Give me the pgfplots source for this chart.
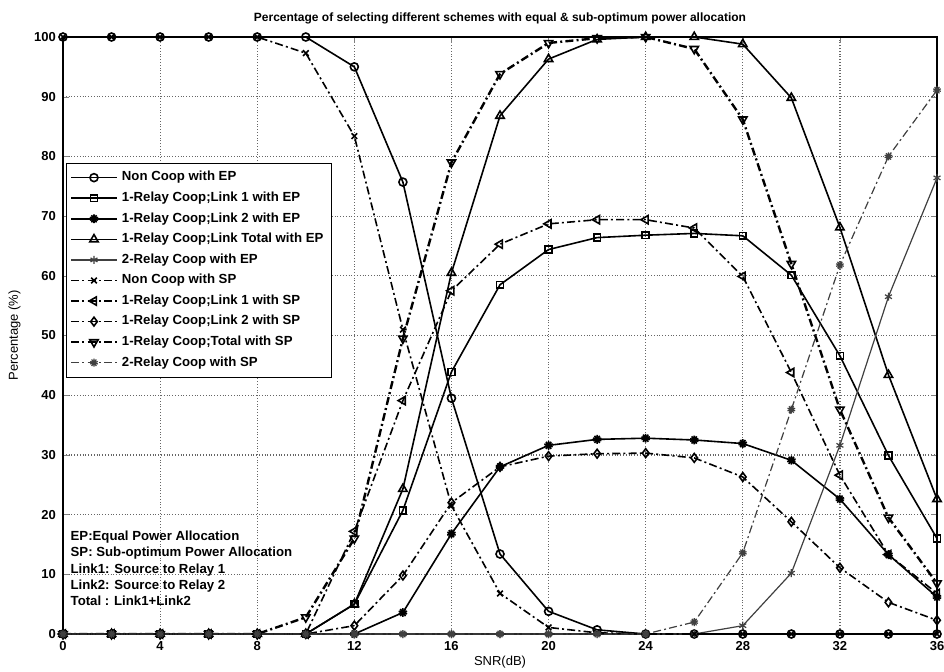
\documentclass[border=0pt]{standalone}
\usepackage{fontspec}
\setmainfont{Liberation Sans}
\usepackage{pgfplots}
\usepackage{pgfplotstable}
\pgfplotsset{compat=1.18}

% SNR, then one column per scheme
\pgfplotstableread{
snr  ncep  l1ep  l2ep  totep  r2ep  ncsp  l1sp  l2sp  totsp  r2sp
0    100   0     0     0      0     100   0     0     0      0
2    100   0     0     0      0     100   0     0     0      0
4    100   0     0     0      0     100   0     0     0      0
6    100   0     0     0      0     100   0     0     0      0
8    100   0     0     0      0     100   0     0     0      0
10   100   0     0     0      0     97.3  0     0     2.8    0
12   95    5     0     5      0     83.4  17.2  1.4   16     0
14   75.7  20.7  3.6   24.3   0     51    39.1  9.8   49.5   0
16   39.5  43.9  16.8  60.5   0     21.5  57.5  22    79     0
18   13.4  58.5  28    86.8   0     6.8   65.3  28    93.8   0
20   3.8   64.4  31.6  96.3   0     1.1   68.7  29.8  99     0
22   0.7   66.4  32.6  99.6   0     0.2   69.4  30.2  99.8   0
24   0     66.8  32.8  100    0     0     69.4  30.3  100    0
26   0     67.1  32.5  100    0     0     68    29.5  98     2
28   0     66.7  31.9  98.8   1.4   0     59.9  26.3  86.2   13.6
30   0     60.1  29.1  89.8   10.2  0     43.8  18.8  62     37.6
32   0     46.6  22.6  68.1   31.6  0     26.6  11.1  37.6   61.8
34   0     29.9  13.3  43.4   56.5  0     13.3  5.3   19.5   80
36   0     16    6.2   22.6   76.4  0     6.8   2.3   8.5    91.1
}\datatab

\tikzset{
  ep/.style={black, line width=0.8pt, solid},
  sp/.style={black, line width=0.8pt, dash pattern=on 4pt off 1.6pt on 1pt off 1.6pt},
}

\begin{document}
\begin{tikzpicture}
\begin{axis}[
  scale only axis,
  width=437pt, height=298.5pt,
  xmin=0, xmax=36, ymin=0, ymax=100,
  xtick={0,4,...,36}, ytick={0,10,...,100},
  grid=major,
  grid style={densely dotted, black!60, line width=0.6pt},
  tick align=inside, major tick length=3pt,
  axis line style={black, line width=0.8pt},
  tick label style={font=\fontsize{6.5}{7}\selectfont\bfseries},
  /pgf/number format/assume math mode=true,
  title={Percentage of selecting different schemes with equal \& sub-optimum power allocation},
  title style={font=\fontsize{6}{7}\selectfont\bfseries, yshift=-3pt},
  xlabel={SNR(dB)}, ylabel={Percentage (\%)},
  label style={font=\fontsize{6.5}{7}\selectfont},
  xlabel style={yshift=4pt},
  legend style={at={(0.003,0.789)}, anchor=north west,
    font=\fontsize{6.6}{7.4}\selectfont\bfseries,
    draw=black, fill=white, row sep=0pt, inner sep=2pt},
  legend cell align=left,
  legend image code/.code={\draw[mark repeat=2,mark phase=2]
    plot coordinates {(0cm,0cm) (0.4cm,0cm) (0.8cm,0cm)};},
  mark size=2pt,
]
\addplot[ep, mark=o, mark options={solid, fill=white}] table[x=snr, y=ncep] {\datatab};
\addlegendentry{Non Coop with EP}
\addplot[ep, mark=square, mark options={solid, fill=white, scale=0.85}] table[x=snr, y=l1ep] {\datatab};
\addlegendentry{1-Relay Coop;Link 1 with EP}
\addplot[ep, mark=10-pointed star, mark options={solid, fill=black, scale=1.1}] table[x=snr, y=l2ep] {\datatab};
\addlegendentry{1-Relay Coop;Link 2 with EP}
\addplot[ep, mark=triangle, mark options={solid, fill=white, scale=1.2}] table[x=snr, y=totep] {\datatab};
\addlegendentry{1-Relay Coop;Link Total with EP}
\addplot[ep, black!75, line width=0.6pt, mark=asterisk, mark options={solid}] table[x=snr, y=r2ep] {\datatab};
\addlegendentry{2-Relay Coop with EP}
\addplot[sp, mark=x, mark options={solid}] table[x=snr, y=ncsp] {\datatab};
\addlegendentry{Non Coop with SP}
\addplot[sp, mark=triangle, mark options={solid, fill=white, rotate=90, scale=1.2}] table[x=snr, y=l1sp] {\datatab};
\addlegendentry{1-Relay Coop;Link 1 with SP}
\addplot[sp, mark=diamond, mark options={solid, fill=white, scale=1.1}] table[x=snr, y=l2sp] {\datatab};
\addlegendentry{1-Relay Coop;Link 2 with SP}
\addplot[sp, line width=1.2pt, mark=triangle, mark options={solid, fill=white, rotate=180, scale=1.2, line width=0.8pt}] table[x=snr, y=totsp] {\datatab};
\addlegendentry{1-Relay Coop;Total with SP}
\addplot[sp, black!75, line width=0.6pt, mark=10-pointed star, mark options={solid, fill=white}] table[x=snr, y=r2sp] {\datatab};
\addlegendentry{2-Relay Coop with SP}

\node[anchor=north west, align=left, inner sep=0pt,
  font=\fontsize{6.6}{8.15}\selectfont\bfseries] at (axis cs:0.3,17.3)
  {EP:Equal Power Allocation\\
   SP: Sub-optimum Power Allocation\\
   Link1: Source to Relay 1\\
   Link2: Source to Relay 2\\
   Total : Link1+Link2};
\end{axis}
\pgfresetboundingbox
\path[use as bounding box] ([xshift=-31.5pt,yshift=-18.5pt]current axis.south west)
  rectangle ([xshift=3.5pt,yshift=18.5pt]current axis.north east);
\end{tikzpicture}
\end{document}
